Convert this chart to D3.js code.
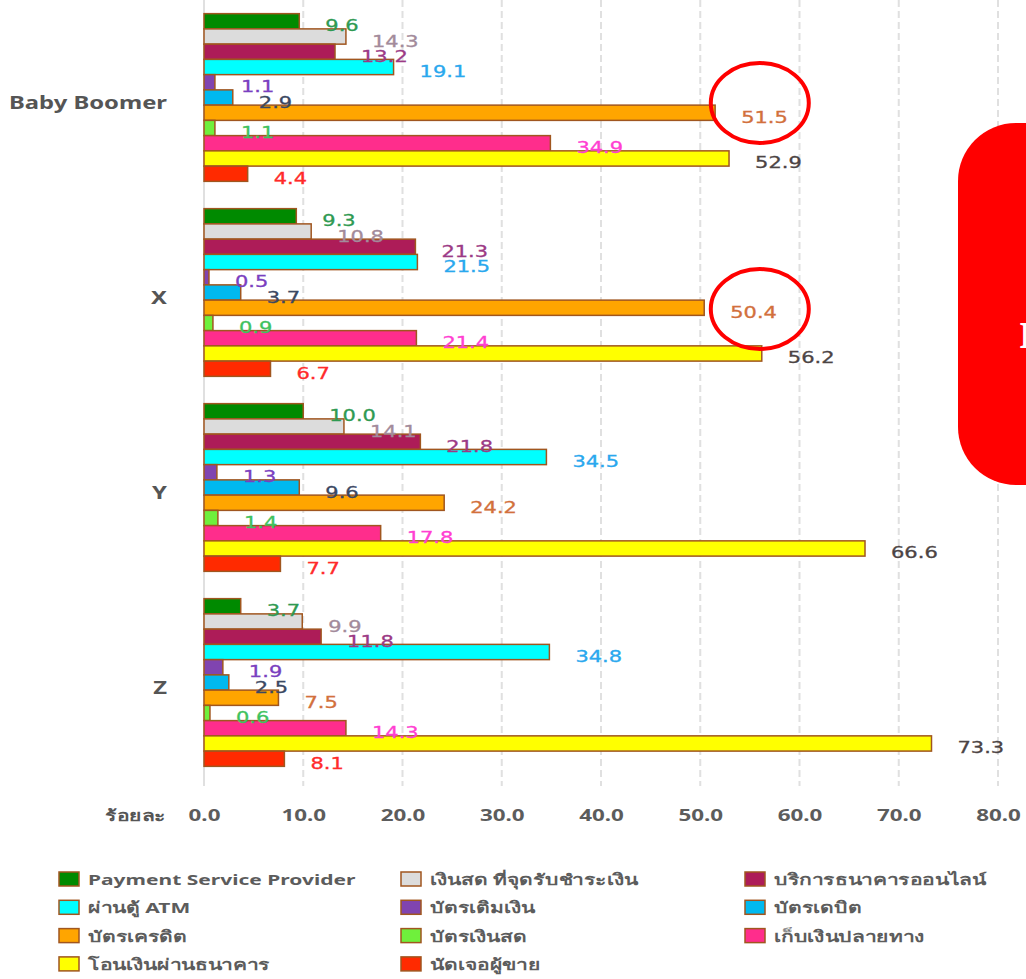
<!DOCTYPE html>
<html>
<head>
<meta charset="utf-8">
<script src="https://cdn.jsdelivr.net/npm/d3@7"></script>
<style>
  body { margin: 0; background: #fff; }
</style>
</head>
<body>
<script>
const groups = ["Baby Boomer", "X", "Y", "Z"];
const seriesNames = [
  "Payment Service Provider", "เงินสด ที่จุดรับชำระเงิน", "บริการธนาคารออนไลน์",
  "ผ่านตู้ ATM", "บัตรเติมเงิน", "บัตรเดบิต",
  "บัตรเครดิต", "บัตรเงินสด", "เก็บเงินปลายทาง",
  "โอนเงินผ่านธนาคาร", "นัดเจอผู้ขาย"
];
const valuesBabyBoomer = [9.6, 14.3, 13.2, 19.1, 1.1, 2.9, 51.5, 1.1, 34.9, 52.9, 4.4];
const valuesX = [9.3, 10.8, 21.3, 21.5, 0.5, 3.7, 50.4, 0.9, 21.4, 56.2, 6.7];
const valuesY = [10.0, 14.1, 21.8, 34.5, 1.3, 9.6, 24.2, 1.4, 17.8, 66.6, 7.7];
const valuesZ = [3.7, 9.9, 11.8, 34.8, 1.9, 2.5, 7.5, 0.6, 14.3, 73.3, 8.1];
const tickValues = [0, 10, 20, 30, 40, 50, 60, 70, 80];
const axisTitle = "ร้อยละ";

const barColors = ["#008a00", "#dcdcdc", "#ad1c58", "#00ffff", "#8044b0", "#00b9ef",
                   "#ffa500", "#6ff03c", "#ff2d8c", "#ffff00", "#ff2a00"];
const labelColors = ["#2f9a52", "#a38b9b", "#9c3a86", "#2aa8ee", "#7a40c0", "#3b4862",
                     "#d2703c", "#3fc25e", "#ff3fd2", "#4c4444", "#ff2a2a"];

const table = [valuesBabyBoomer, valuesX, valuesY, valuesZ].map((vals, gi) => ({
  group: groups[gi],
  items: vals.map((v, si) => ({ series: si, value: v }))
}));

// the original picture is stretched sideways, so text gets a horizontal scale
const stretch = 1.4;
const placeText = (sel, fx, fy) =>
  sel.attr("transform", (d, i) => `translate(${fx(d, i)},${fy(d, i)}) scale(${stretch},1)`);

const W = 1026, H = 979;
const svg = d3.select("body").append("svg")
  .attr("width", W)
  .attr("height", H)
  .style("font-family", "'Noto Sans', 'DejaVu Sans', sans-serif");

const x = d3.scaleLinear().domain([0, 80]).range([204, 998]);
const y0 = d3.scaleBand().domain(groups).range([0, 780]).paddingInner(0.14).paddingOuter(0.07);
const y1 = d3.scaleBand().domain(d3.range(seriesNames.length)).range([0, y0.bandwidth()]);

// gridlines
svg.append("g").selectAll("line")
  .data(tickValues)
  .enter().append("line")
  .attr("x1", d => x(d)).attr("x2", d => x(d))
  .attr("y1", 0).attr("y2", 786)
  .attr("stroke", "#e0e0e0")
  .attr("stroke-width", 2)
  .attr("stroke-dasharray", d => d === 0 ? null : "7,4");

// bars
const gGroups = svg.append("g").selectAll("g")
  .data(table)
  .enter().append("g")
  .attr("transform", d => `translate(0,${y0(d.group)})`);

gGroups.selectAll("rect")
  .data(d => d.items)
  .enter().append("rect")
  .attr("x", x(0))
  .attr("y", d => y1(d.series))
  .attr("width", d => x(d.value) - x(0))
  .attr("height", y1.bandwidth())
  .attr("fill", d => barColors[d.series])
  .attr("stroke", "#a0561f")
  .attr("stroke-width", 1.5);

gGroups.selectAll("text")
  .data(d => d.items)
  .enter().append("text")
  .call(placeText, d => x(d.value) + 26, d => y1(d.series) + y1.bandwidth() / 2 + 10)
  .attr("font-size", "15px")
  .attr("font-family", "'DejaVu Sans', sans-serif")
  .attr("fill", d => labelColors[d.series])
  .attr("stroke", d => labelColors[d.series])
  .attr("stroke-width", 0.3)
  .text(d => d.value.toFixed(1));

// category labels
svg.append("g").selectAll("text")
  .data(groups)
  .enter().append("text")
  .call(placeText, () => 167, d => y0(d) + y0.bandwidth() / 2 + 11)
  .attr("text-anchor", "end")
  .attr("font-size", "17px")
  .attr("font-weight", "bold")
  .attr("fill", "#555")
  .text(d => d);

// x tick labels
const xAxis = d3.axisBottom(x).tickValues(tickValues).tickFormat(d3.format(".1f")).tickSize(0);
const gx = svg.append("g").attr("transform", "translate(0,807)").call(xAxis);
gx.select(".domain").remove();
gx.selectAll("text")
  .attr("transform", `scale(${stretch},1)`)
  .attr("font-size", "16px")
  .attr("font-weight", "bold")
  .attr("fill", "#5c5c5c")
  .attr("font-family", "'Noto Sans', sans-serif");

svg.append("text")
  .call(placeText, () => 166, () => 821)
  .attr("text-anchor", "end")
  .attr("font-size", "15px")
  .attr("font-weight", "bold")
  .attr("fill", "#555")
  .text(axisTitle);

// legend
const legend = svg.append("g").selectAll("g")
  .data(seriesNames)
  .enter().append("g")
  .attr("transform", (d, i) => `translate(${[59, 401, 745][i % 3]},${872 + Math.floor(i / 3) * 28.3})`);

legend.append("rect")
  .attr("width", 20).attr("height", 14)
  .attr("fill", (d, i) => barColors[i])
  .attr("stroke", "#a0561f")
  .attr("stroke-width", 1.5);

legend.append("text")
  .call(placeText, () => 29, () => 13)
  .attr("font-size", "15px")
  .attr("font-weight", "bold")
  .attr("fill", "#5c5c5c")
  .text(d => d);

// highlight circles
svg.append("ellipse")
  .attr("cx", x(56)).attr("cy", 103).attr("rx", 49).attr("ry", 40)
  .attr("fill", "none").attr("stroke", "#ff0000").attr("stroke-width", 4);
svg.append("ellipse")
  .attr("cx", x(56)).attr("cy", 309).attr("rx", 49).attr("ry", 40)
  .attr("fill", "none").attr("stroke", "#ff0000").attr("stroke-width", 4);

// red callout box, cut by the right edge
svg.append("rect")
  .attr("x", 958).attr("y", 123)
  .attr("width", 140).attr("height", 362)
  .attr("rx", 58)
  .attr("fill", "#ff0000");
svg.append("text")
  .attr("x", 1019).attr("y", 348)
  .attr("font-size", "34px")
  .attr("font-family", "'Noto Sans', sans-serif")
  .attr("fill", "#fff")
  .text("I");
</script>
</body>
</html>
